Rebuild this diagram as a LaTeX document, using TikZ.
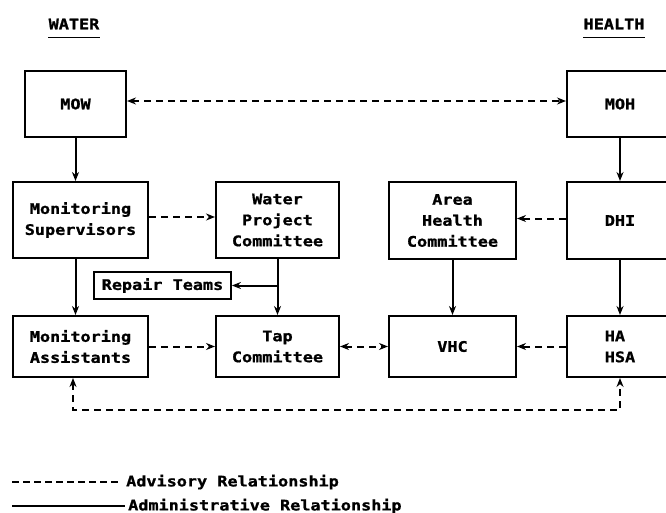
\documentclass[tikz,border=0pt]{standalone}
\usepackage{fontspec}
\newfontfamily\tw[FakeStretch=1.16,BoldFeatures={FakeBold=1.2}]{DejaVu Sans Mono}
\usetikzlibrary{arrows.meta}
\begin{document}
\begin{tikzpicture}[x=1pt,y=-1pt,
  every node/.style={font=\tw\bfseries\fontsize{14.5}{21}\selectfont},
  box/.style={draw,line width=2pt,rectangle,inner sep=0pt,align=center},
  adm/.style={line width=2pt,-{Stealth[length=9pt,width=7pt]}},
  adv/.style={line width=2pt,dash pattern=on 7pt off 5pt,-{Stealth[length=9pt,width=7pt]}},
  adv2/.style={line width=2pt,dash pattern=on 7pt off 5pt,{Stealth[length=9pt,width=7pt]}-{Stealth[length=9pt,width=7pt]}},
  head/.style={inner sep=0pt}
]
\useasboundingbox (0,0) rectangle (666,513);
% headings
\node[head] (water) at (74,24) {WATER};
\node[head] (health) at (614,24) {HEALTH};
\draw[line width=1.6pt] (water.south west) ++(0,8) -- ++(52,0);
\draw[line width=1.6pt] (health.south west) ++(0,8) -- ++(62,0);
% boxes
\node[box,minimum width=101pt,minimum height=66pt] (mow) at (75.5,104) {MOW};
\node[box,minimum width=106pt,minimum height=66pt] (moh) at (620,104) {MOH};
\node[box,minimum width=135pt,minimum height=76pt] (ms) at (80.5,220) {Monitoring\\Supervisors};
\node[box,minimum width=123pt,minimum height=76pt] (wpc) at (277.5,220) {Water\\Project\\Committee};
\node[box,minimum width=127pt,minimum height=77pt] (ahc) at (452.5,220.5) {Area\\Health\\Committee};
\node[box,minimum width=106pt,minimum height=77pt] (dhi) at (620,220.5) {DHI};
\node[box,minimum width=137pt,minimum height=27pt,line width=1.8pt] (rt) at (162.5,285.5) {Repair Teams};
\node[box,minimum width=135pt,minimum height=61pt] (ma) at (80.5,346.5) {Monitoring\\Assistants};
\node[box,minimum width=123pt,minimum height=61pt] (tc) at (277.5,346.5) {Tap\\Committee};
\node[box,minimum width=127pt,minimum height=61pt] (vhc) at (452.5,346.5) {VHC};
\node[box,minimum width=106pt,minimum height=61pt,align=left] (ha) at (620,346.5) {HA\\HSA};
% administrative
\draw[adm] (mow.south) -- (ms.north -| mow.south);
\draw[adm] (ms.south -| mow.south) -- (ma.north -| mow.south);
\draw[adm] (wpc.south) -- (tc.north);
\coordinate (br) at (277.5,285.5);
\draw[adm] (br) -- (rt.east);
\draw[adm] (moh.south) -- (dhi.north);
\draw[adm] (dhi.south) -- (ha.north);
\draw[adm] (ahc.south) -- (vhc.north);
% advisory
\draw[adv2] ([yshift=3pt]mow.east) -- ([yshift=3pt]mow.east -| moh.west);
\draw[adv] ([yshift=3pt]ms.east) -- ([yshift=3pt]wpc.west);
\draw[adv] (ma.east) -- (tc.west);
\draw[adv2] (tc.east) -- (vhc.west);
\draw[adv] (ha.west) -- (vhc.east);
\draw[adv] ([yshift=2pt]dhi.west) -- ([yshift=2pt]ahc.east);
\coordinate (bl) at (73,410);
\coordinate (brr) at (620,410);
\draw[adv2] (ma.south -| bl) -- (bl) -- (brr) -- (ha.south);
% legend
\coordinate (l1a) at (12,482);
\coordinate (l1b) at (121,482);
\coordinate (l2a) at (12,506);
\coordinate (l2b) at (125,506);
\draw[line width=2pt,dash pattern=on 7pt off 4pt] (l1a) -- (l1b);
\draw[line width=2pt] (l2a) -- (l2b);
\node[anchor=west,inner sep=0pt] (advtext) at (126,482) {Advisory Relationship};
\node[anchor=west,inner sep=0pt] (admtext) at (128,506) {Administrative Relationship};
\end{tikzpicture}
\end{document}
